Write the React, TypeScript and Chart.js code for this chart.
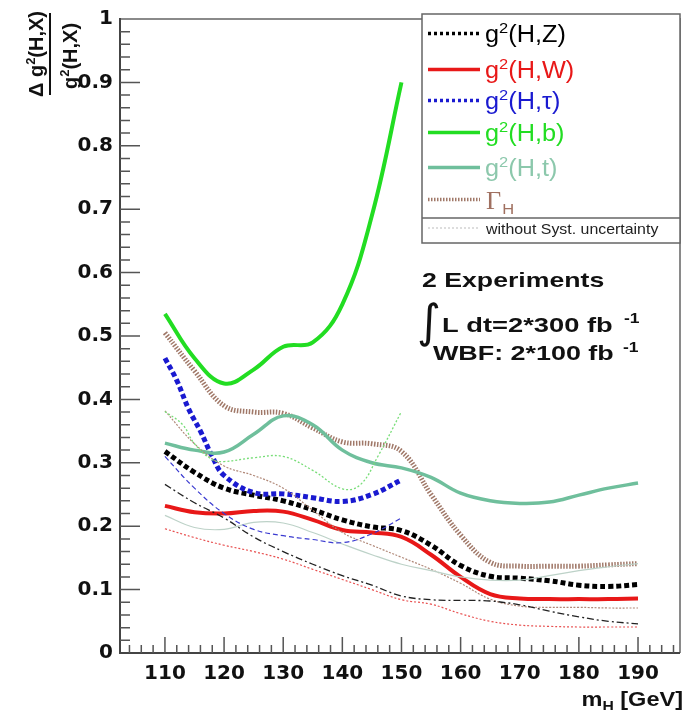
import React, { useEffect, useRef } from "react";
import { Chart, registerables } from "chart.js";
Chart.register(...registerables);

// ---------- data ----------
const mass = [110, 115, 120, 125, 130, 135, 140, 145, 150, 155, 160, 165, 170, 175, 180, 185, 190];
const gHZ = [0.318, 0.285, 0.26, 0.249, 0.24, 0.226, 0.21, 0.199, 0.193, 0.17, 0.138, 0.121, 0.118, 0.114, 0.107, 0.105, 0.108];
const gHW = [0.232, 0.222, 0.22, 0.224, 0.223, 0.21, 0.194, 0.19, 0.183, 0.155, 0.12, 0.093, 0.086, 0.085, 0.085, 0.085, 0.086];
const gHt = [0.331, 0.32, 0.317, 0.345, 0.374, 0.36, 0.32, 0.3, 0.292, 0.277, 0.252, 0.24, 0.236, 0.238, 0.249, 0.26, 0.268];
const gammaH = [0.505, 0.445, 0.39, 0.38, 0.378, 0.355, 0.333, 0.33, 0.318, 0.25, 0.186, 0.143, 0.137, 0.137, 0.137, 0.139, 0.141];

const gHZnoSyst = [0.266, 0.237, 0.213, 0.183, 0.16, 0.14, 0.122, 0.107, 0.09, 0.084, 0.083, 0.082, 0.076, 0.066, 0.057, 0.05, 0.046];
const gHWnoSyst = [0.196, 0.182, 0.17, 0.16, 0.148, 0.132, 0.116, 0.1, 0.084, 0.077, 0.062, 0.05, 0.044, 0.042, 0.041, 0.041, 0.041];
const gHtNoSyst = [0.217, 0.198, 0.195, 0.206, 0.205, 0.19, 0.172, 0.155, 0.14, 0.13, 0.12, 0.115, 0.115, 0.122, 0.13, 0.136, 0.141];
const gammaHnoSyst = [0.382, 0.33, 0.295, 0.28, 0.26, 0.225, 0.19, 0.17, 0.151, 0.132, 0.11, 0.085, 0.074, 0.072, 0.072, 0.071, 0.071];

const massLow = [110, 115, 120, 125, 130, 135, 140, 145, 150];
const gHb = [0.535, 0.465, 0.425, 0.447, 0.483, 0.49, 0.55, 0.69, 0.9];
const gHtauNoSyst = [0.31, 0.26, 0.22, 0.195, 0.185, 0.179, 0.174, 0.188, 0.213];

const massTau = [110, 112, 114, 116, 118, 120, 125, 130, 135, 140, 145, 150];
const gHtau = [0.465, 0.43, 0.385, 0.35, 0.31, 0.28, 0.253, 0.251, 0.245, 0.239, 0.25, 0.273];

const massBthin = [110, 113, 115, 118, 120, 125, 130, 135, 140, 143, 146, 150];
const gHbNoSyst = [0.381, 0.36, 0.33, 0.305, 0.302, 0.308, 0.31, 0.288, 0.259, 0.265, 0.31, 0.381];

const xTickValues = [110, 120, 130, 140, 150, 160, 170, 180, 190];
const yTickValues = [0, 0.1, 0.2, 0.3, 0.4, 0.5, 0.6, 0.7, 0.8, 0.9, 1];
const yTickLabels = ["0", "0.1", "0.2", "0.3", "0.4", "0.5", "0.6", "0.7", "0.8", "0.9", "1"];

// legend: [base, superscript, rest]
const legendLabels: [string, string, string][] = [
  ["g", "2", "(H,Z)"],
  ["g", "2", "(H,W)"],
  ["g", "2", "(H,\u03C4)"],
  ["g", "2", "(H,b)"],
  ["g", "2", "(H,t)"],
  ["\u0393", "", ""],
];
const noSystLabel = "without Syst. uncertainty";

const X_MIN = 102.4;
const X_MAX = 197.1;

const SANS = "'Liberation Sans', Arial, Helvetica, sans-serif";
const TICKFONT = "'DejaVu Sans', 'Liberation Sans', sans-serif";

const pts = (xs: number[], ys: number[]) => xs.map((x, i) => ({ x, y: ys[i] }));

function textStretched(ctx: CanvasRenderingContext2D, txt: string, x: number, y: number, sx: number) {
  ctx.save();
  ctx.translate(x, y);
  ctx.scale(sx, 1);
  ctx.fillText(txt, 0, 0);
  ctx.restore();
  return ctx.measureText(txt).width * sx;
}

// draws base + superscript + rest, returns total width
function supText(
  ctx: CanvasRenderingContext2D,
  parts: [string, string, string],
  x: number,
  y: number,
  sx: number,
  font: (s: number) => string,
  size: number,
  supSize: number,
  supRise: number
) {
  let cx = x;
  ctx.font = font(size);
  cx += textStretched(ctx, parts[0], cx, y, sx);
  if (parts[1]) {
    ctx.font = font(supSize);
    cx += textStretched(ctx, parts[1], cx, y - supRise, sx);
  }
  ctx.font = font(size);
  cx += textStretched(ctx, parts[2], cx, y, sx);
  return cx - x;
}

const decorPlugin = {
  id: "decor",
  afterDraw(chart: any) {
    const ctx: CanvasRenderingContext2D = chart.ctx;
    const xs = chart.scales.x;
    const ys = chart.scales.y;
    const { left, right, top, bottom } = chart.chartArea;
    ctx.save();

    // frame
    ctx.strokeStyle = "#8a8a8a";
    ctx.lineWidth = 2;
    ctx.beginPath();
    ctx.moveTo(left, top);
    ctx.lineTo(right, top);
    ctx.lineTo(right, bottom);
    ctx.stroke();
    ctx.strokeStyle = "#444";
    ctx.beginPath();
    ctx.moveTo(left, top - 1);
    ctx.lineTo(left, bottom);
    ctx.lineTo(right, bottom);
    ctx.stroke();

    // ticks (inward)
    ctx.lineWidth = 1.5;
    ctx.strokeStyle = "#555";
    ctx.beginPath();
    for (let v = 104; v <= 196; v += 2) {
      const px = xs.getPixelForValue(v);
      const major = v % 10 === 0;
      ctx.moveTo(px, bottom);
      ctx.lineTo(px, bottom - (major ? 16 : 8));
    }
    for (let k = 1; k < 50; k++) {
      const v = k * 0.02;
      const py = ys.getPixelForValue(v);
      const major = k % 5 === 0;
      ctx.moveTo(left, py);
      ctx.lineTo(left + (major ? 20 : 10), py);
    }
    ctx.stroke();

    // legend box
    const lx0 = 422, ly0 = 14, lx1 = right, ly1 = 243;
    ctx.fillStyle = "#fff";
    ctx.fillRect(lx0, ly0, lx1 - lx0, ly1 - ly0);
    ctx.strokeStyle = "#666";
    ctx.lineWidth = 1.5;
    ctx.strokeRect(lx0, ly0, lx1 - lx0, ly1 - ly0);
    ctx.beginPath();
    ctx.moveTo(lx0, 218);
    ctx.lineTo(lx1, 218);
    ctx.stroke();

    const rows = [33.5, 69.5, 100.5, 132.5, 167.5, 199.5];
    const legendDs = chart.data.datasets.filter((d: any) => d.legendIndex !== undefined);
    legendDs.sort((a: any, b: any) => a.legendIndex - b.legendIndex);
    legendDs.forEach((d: any, i: number) => {
      const y = rows[i];
      ctx.save();
      ctx.strokeStyle = d.borderColor;
      ctx.lineWidth = Math.min(d.borderWidth, 3.5);
      ctx.setLineDash(d.legendDash || d.borderDash || []);
      ctx.beginPath();
      ctx.moveTo(428, y);
      ctx.lineTo(480, y);
      ctx.stroke();
      ctx.restore();
      ctx.fillStyle = d.textColor || d.borderColor;
      ctx.textBaseline = "alphabetic";
      ctx.textAlign = "left";
      if (i === 5) {
        ctx.font = "25px 'Liberation Serif', 'Times New Roman', serif";
        const w = textStretched(ctx, legendLabels[i][0], 486, y + 9, 1.05);
        ctx.font = `15px ${SANS}`;
        textStretched(ctx, "H", 486 + w + 1, y + 14, 1.1);
      } else {
        supText(ctx, legendLabels[i], 485, y + 8.5, 1.1, (s) => `${s}px ${SANS}`, 23, 15, 9);
      }
    });
    // no-syst entry
    ctx.save();
    ctx.strokeStyle = "#bbbbbb";
    ctx.lineWidth = 1;
    ctx.setLineDash([2, 2]);
    ctx.beginPath();
    ctx.moveTo(428, 228);
    ctx.lineTo(480, 228);
    ctx.stroke();
    ctx.restore();
    ctx.fillStyle = "#222";
    ctx.font = `15px ${SANS}`;
    textStretched(ctx, noSystLabel, 486, 234, 1.06);

    // annotation
    ctx.fillStyle = "#111";
    ctx.font = `bold 21px ${SANS}`;
    textStretched(ctx, "2 Experiments", 422, 287, 1.27);
    ctx.font = `46px 'DejaVu Sans', sans-serif`;
    ctx.fillText("\u222B", 417, 337);
    ctx.font = `bold 21px ${SANS}`;
    textStretched(ctx, "L dt=2*300 fb", 442, 332, 1.3);
    textStretched(ctx, "WBF: 2*100 fb", 433, 360, 1.28);
    ctx.font = `bold 14px ${SANS}`;
    textStretched(ctx, "-1", 624, 323, 1.25);
    textStretched(ctx, "-1", 623, 352, 1.25);

    // x title
    ctx.font = `bold 21px ${SANS}`;
    const sx = 1.12;
    const wRest = ctx.measureText(" [GeV]").width * sx;
    const wM = ctx.measureText("m").width * sx;
    ctx.font = `bold 14px ${SANS}`;
    const wH = ctx.measureText("H").width * sx;
    const xEnd = 683;
    const x0 = xEnd - wRest - wH - wM;
    ctx.font = `bold 21px ${SANS}`;
    textStretched(ctx, "m", x0, 706, sx);
    textStretched(ctx, " [GeV]", x0 + wM + wH, 706, sx);
    ctx.font = `bold 14px ${SANS}`;
    textStretched(ctx, "H", x0 + wM, 711, sx);

    // y title (fraction, rotated)
    const bold = (s: number) => `bold ${s}px ${SANS}`;
    const drawRot = (parts: [string, string, string], cx: number, cy: number) => {
      ctx.save();
      ctx.translate(cx, cy);
      ctx.rotate(-Math.PI / 2);
      ctx.textAlign = "left";
      // measure
      ctx.font = bold(20);
      let w = ctx.measureText(parts[0]).width + ctx.measureText(parts[2]).width;
      ctx.font = bold(13);
      w += ctx.measureText(parts[1]).width;
      supText(ctx, parts, -w / 2, 0, 1, bold, 20, 13, 8);
      ctx.restore();
    };
    ctx.fillStyle = "#111";
    drawRot(["\u0394 g", "2", "(H,X)"], 43, 54);
    drawRot(["g", "2", "(H,X)"], 77, 56);
    ctx.strokeStyle = "#111";
    ctx.lineWidth = 2;
    ctx.beginPath();
    ctx.moveTo(50, 13);
    ctx.lineTo(50, 95);
    ctx.stroke();

    ctx.restore();
  },
};

export default function App() {
  const ref = useRef<HTMLCanvasElement | null>(null);
  useEffect(() => {
    if (!ref.current) return;
    const line = (data: any, color: string, width: number, dash: number[] = [], extra: any = {}) => ({
      data,
      borderColor: color,
      borderWidth: width,
      borderDash: dash,
      pointRadius: 0,
      fill: false,
      tension: 0.4,
      ...extra,
    });
    const chart = new Chart(ref.current, {
      type: "line",
      data: {
        datasets: [
          line(pts(mass, gHZnoSyst), "#222222", 1.3, [7, 3, 2, 3]),
          line(pts(mass, gHWnoSyst), "#e85050", 1.2, [2, 2]),
          line(pts(massLow, gHtauNoSyst), "#3a3ad0", 1.2, [5, 3]),
          line(pts(massBthin, gHbNoSyst), "#77dd77", 1.3, [2, 2]),
          line(pts(mass, gHtNoSyst), "#bdd2c8", 1.2, []),
          line(pts(mass, gammaHnoSyst), "#b08878", 1.2, [2, 1.5]),
          line(pts(mass, gHt), "#6fbf9c", 3.5, [], { legendIndex: 4, textColor: "#8cc8ac" }),
          line(pts(mass, gammaH), "#a07868", 5, [1.5, 1.5], { legendIndex: 5, textColor: "#a07060", legendDash: [1.5, 1.5] }),
          line(pts(massLow, gHb), "#22dd22", 4, [], { legendIndex: 3 }),
          line(pts(massTau, gHtau), "#1a1ad0", 5, [5, 3], { legendIndex: 2, legendDash: [3, 3] }),
          line(pts(mass, gHZ), "#000000", 5, [5, 3], { legendIndex: 0, legendDash: [3, 3] }),
          line(pts(mass, gHW), "#e81818", 4, [], { legendIndex: 1 }),
        ],
      },
      options: {
        animation: false,
        responsive: false,
        devicePixelRatio: 1,
        layout: { padding: { left: 0, top: 16, right: 5, bottom: 0 } },
        plugins: { legend: { display: false }, tooltip: { enabled: false } },
        scales: {
          x: {
            type: "linear",
            min: X_MIN,
            max: X_MAX,
            grid: { display: false, drawTicks: false },
            border: { display: false },
            ticks: {
              padding: 9,
              color: "#111",
              maxRotation: 0,
              autoSkip: false,
              font: { family: TICKFONT, size: 20, weight: "bold" },
              callback: (v: any) => String(v),
            },
            afterBuildTicks: (s: any) => {
              s.ticks = xTickValues.map((v) => ({ value: v }));
            },
            afterFit: (s: any) => {
              s.height = 57;
            },
          },
          y: {
            type: "linear",
            min: 0,
            max: 1,
            grid: { display: false, drawTicks: false },
            border: { display: false },
            ticks: {
              padding: 7,
              color: "#111",
              autoSkip: false,
              font: { family: TICKFONT, size: 20, weight: "bold" },
              callback: (v: any) => {
                const i = yTickValues.findIndex((t) => Math.abs(t - v) < 1e-6);
                return i >= 0 ? yTickLabels[i] : "";
              },
            },
            afterBuildTicks: (s: any) => {
              s.ticks = yTickValues.map((v) => ({ value: v }));
            },
            afterFit: (s: any) => {
              s.width = 120;
            },
          },
        },
      },
      plugins: [decorPlugin],
    } as any);
    return () => chart.destroy();
  }, []);
  return (
    <div style={{ position: "absolute", left: 0, top: 0, width: 685, height: 710, background: "#fff" }}>
      <canvas ref={ref} width={685} height={710} style={{ width: 685, height: 710 }} />
    </div>
  );
}
